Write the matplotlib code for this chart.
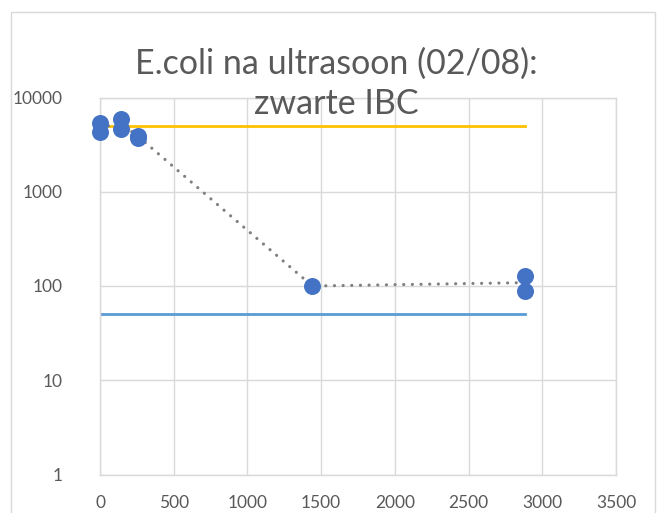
import matplotlib
matplotlib.use("Agg")
import matplotlib.pyplot as plt
from matplotlib.patches import Rectangle
import numpy as np

plt.rcParams['font.family'] = ['Lato', 'DejaVu Sans']

# Data
time_x = [0, 0, 145, 145, 260, 260, 1440, 2880, 2880]
ecoli_y = [5300, 4350, 5900, 4600, 3950, 3750, 100, 128, 89]
line_x = [0, 2880]
upper_limit = [5000, 5000]
lower_limit = [50, 50]
title = "E.coli na ultrasoon (02/08):\nzwarte IBC"

fig = plt.figure(figsize=(6.58, 5.13), dpi=100)
ax = fig.add_axes([100/658, 1-474.5/513, 516/658, (474.5-97.5)/513])

# Chart border
fig.patches.append(Rectangle((11/658, -0.02), (655-11)/658, 1-12/513+0.02,
                             transform=fig.transFigure, fill=False,
                             edgecolor='#d9d9d9', linewidth=1.0))

ax.set_yscale('log')
ax.set_xlim(0, 3500)
ax.set_ylim(1, 10000)
ax.set_xticks(np.arange(0, 3501, 500))
ax.set_yticks([1, 10, 100, 1000, 10000])
ax.set_yticklabels(['1', '10', '100', '1000', '10000'])
ax.minorticks_off()
ax.grid(True, color='#d9d9d9', linewidth=1.0)
ax.set_axisbelow(True)
for s in ax.spines.values():
    s.set_color('#d9d9d9')
    s.set_linewidth(1.0)
ax.tick_params(length=0, labelsize=12.5, colors='#595959')
ax.tick_params(axis='y', pad=27)
ax.tick_params(axis='x', pad=14.5)

ax.plot(line_x, upper_limit, color='#ffc000', linewidth=2, zorder=2)
ax.plot(line_x, lower_limit, color='#5b9bd5', linewidth=2, zorder=2)

# Trend through group means
xs = sorted(set(time_x))
means = [np.mean([y for x, y in zip(time_x, ecoli_y) if x == xv]) for xv in xs]
ax.plot(xs, means, color='#808080', linestyle=(0, (0.01, 2.7)), linewidth=2.3,
        dash_capstyle='round', zorder=3)

ax.scatter(time_x, ecoli_y, s=150, color='#4472c4', zorder=4, linewidths=0,
           clip_on=False)

fig.text(336/658, 1-83.5/513, title, ha='center', va='center', fontsize=24.5,
         color='#595959', linespacing=1.32)

fig.savefig('out.png', dpi=100)
